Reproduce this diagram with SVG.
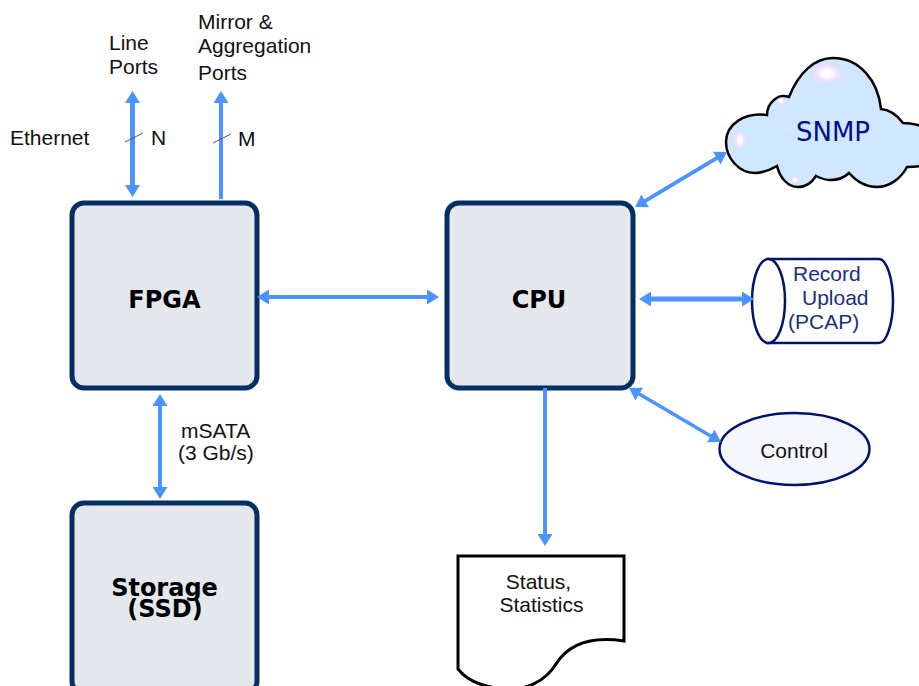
<svg xmlns="http://www.w3.org/2000/svg" width="919" height="686" viewBox="0 0 919 686">
<style>
text{font-family:"Liberation Sans",Arial,sans-serif;font-size:21px;fill:#111}
.box rect{fill:#e4e7ec;stroke:#042f62;stroke-width:5}
.b{font-family:"DejaVu Sans",sans-serif;font-weight:bold;font-size:24px;fill:#000;text-anchor:middle}
.navy{fill:#1a2f80}
.c line{stroke:#4a94ff;fill:none}
.t line{stroke:#555;stroke-width:1;fill:none}
</style>
<defs>
<marker id="a" markerUnits="userSpaceOnUse" markerWidth="15" markerHeight="15" refX="2" refY="7.500" orient="auto-start-reverse" viewBox="0 0 15 15"><path d="M0 0L12 7.500L0 15Z" fill="#4a94ff"/></marker>
<radialGradient id="h"><stop offset="0.35" stop-color="#fff"/><stop offset="0.65" stop-color="#efe6fc"/><stop offset="1" stop-color="#e6dcf8"/></radialGradient>
</defs>
<g id="fpga" class="box"><rect x="72" y="203" width="185" height="185" rx="12"/><text class="b" x="164.500" y="308">FPGA</text></g>
<g id="cpu" class="box"><rect x="447" y="203" width="186" height="185" rx="12"/><text class="b" x="539" y="308">CPU</text></g>
<g id="storage" class="box"><rect x="72" y="503" width="185" height="190" rx="12"/><text class="b"><tspan x="164.500" y="596">Storage</tspan><tspan x="165" y="617">(SSD)</tspan></text></g>
<g id="snmp">
<path d="M726 142C726 124 745 112 767 115C767 103 778 93 789 97C799 72 815 58 833 58C859 58 878 80 881 109C890 110 898 116 903 123C909 123 915 124 925 127L925 165C918 167 912 167 907 167C900 180 888 187 877 187C865 187 856 181 849 173C843 179 836 180 830 180C825 180 820 178 816 176C811 184 804 187 798 187C788 187 780 178 777 166C768 171 762 173 755 173C739 173 726 158 726 142Z" fill="#d1e6ff" stroke="#000" stroke-width="2.500"/>
<ellipse cx="827" cy="73.500" rx="15" ry="10" fill="url(#h)"/><ellipse cx="740" cy="140" rx="6" ry="8.500" fill="url(#h)"/><ellipse cx="781" cy="101" rx="4" ry="3.500" fill="url(#h)"/><ellipse cx="795" cy="180" rx="4" ry="3.500" fill="url(#h)"/>
<text x="833" y="141" text-anchor="middle" style="font-family:'DejaVu Sans',sans-serif;font-size:26px;fill:#000f8c">SNMP</text></g>
<g id="record">
<path d="M766 259H879C887 259 893 280 893 301C893 322 887 343 879 343H766" fill="#fff" stroke="#00146e" stroke-width="2.500"/>
<ellipse cx="768.500" cy="301" rx="16.500" ry="42" fill="#fff" stroke="#00146e" stroke-width="2.500"/>
<text class="navy" x="793" y="281">Record</text><text class="navy" x="802" y="305">Upload</text><text class="navy" x="788" y="329">(PCAP)</text></g>
<g id="control"><ellipse cx="794.500" cy="449" rx="75" ry="36" fill="#f5f7fc" stroke="#00146e" stroke-width="2.500"/><text x="794" y="458" text-anchor="middle">Control</text></g>
<g id="status"><path d="M458 556H624V641C590 636 568 645 556 664C545 682 525 690 508 689C487 688 468 682 458 669Z" fill="#fff" stroke="#000" stroke-width="3"/><text x="538.500" y="589" text-anchor="middle">Status,</text><text x="541.500" y="612" text-anchor="middle">Statistics</text></g>
<g id="connectors" class="c">
<line x1="132.500" y1="101" x2="132.500" y2="187" stroke-width="5" marker-start="url(#a)" marker-end="url(#a)"/>
<line x1="221" y1="101" x2="221" y2="199" stroke-width="4" marker-start="url(#a)"/>
<line x1="267" y1="297" x2="429" y2="297" stroke-width="4" marker-start="url(#a)" marker-end="url(#a)"/>
<line x1="160" y1="404" x2="160" y2="489" stroke-width="4" marker-start="url(#a)" marker-end="url(#a)"/>
<line x1="643.600" y1="201.900" x2="718.400" y2="157.100" stroke-width="4" marker-start="url(#a)" marker-end="url(#a)"/>
<line x1="649" y1="299" x2="744" y2="299" stroke-width="5" marker-start="url(#a)" marker-end="url(#a)"/>
<line x1="637.600" y1="393.100" x2="712.400" y2="436.900" stroke-width="3.500" marker-start="url(#a)" marker-end="url(#a)"/>
<line x1="545" y1="388" x2="545" y2="536" stroke-width="4" marker-end="url(#a)"/>
</g>
<g class="t"><line x1="125" y1="142" x2="143" y2="133"/><line x1="213" y1="143" x2="231" y2="134"/></g>
<g id="labels">
<text x="109" y="50">Line</text><text x="109" y="74">Ports</text>
<text x="198" y="29">Mirror &amp;</text><text x="198" y="53">Aggregation</text><text x="198" y="80">Ports</text>
<text x="10" y="145">Ethernet</text><text x="151" y="145">N</text><text x="238" y="146">M</text>
<text x="181" y="438">mSATA</text><text x="178" y="460">(3 Gb/s)</text>
</g>
</svg>
